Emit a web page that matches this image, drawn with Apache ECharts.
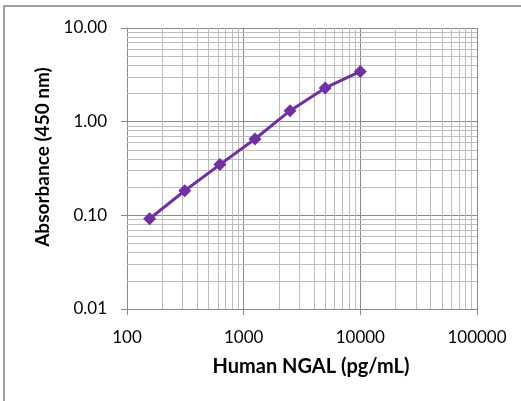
<!DOCTYPE html>
<html><head><meta charset="utf-8">
<script src="https://cdn.jsdelivr.net/npm/echarts@6/dist/echarts.min.js"></script>
<style>html,body{margin:0;padding:0;background:#fff}#c{width:521px;height:401px}</style>
</head><body><div id="c"></div>
<script>
const concentrations = [156.25, 312.5, 625, 1250, 2500, 5000, 10000];
const absorbance = [0.092, 0.183, 0.348, 0.653, 1.31, 2.29, 3.44];
const xTickLabels = ['100', '1000', '10000', '100000'];
const yTickLabels = ['0.01', '0.10', '1.00', '10.00'];
const xTitle = 'Human NGAL (pg/mL)';
const yTitle = 'Absorbance (450 nm)';

const xMinor = [], yMinor = [];
[100, 1000, 10000].forEach(d => { for (let k = 2; k <= 9; k++) xMinor.push(k * d); });
[0.01, 0.1, 1].forEach(d => { for (let k = 2; k <= 9; k++) yMinor.push(+(k * d).toFixed(3)); });

const font = 'Lato, "Open Sans", sans-serif';
const chart = echarts.init(document.getElementById('c'), null, {renderer: 'canvas'});
chart.setOption({
  animation: false,
  backgroundColor: '#fff',
  graphic: [{
    type: 'polyline', silent: true,
    shape: {points: [[4, 401], [4, 6], [521, 6]]},
    style: {stroke: '#a0a0a0', lineWidth: 2, fill: null}
  }, {
    type: 'text', silent: true, x: 311, y: 367,
    style: {text: xTitle, font: 'bold 20px ' + font, fill: '#000', align: 'center', verticalAlign: 'middle'}
  }, {
    type: 'text', silent: true, x: 43, y: 157, rotation: Math.PI / 2,
    style: {text: yTitle, font: 'bold 19px ' + font, fill: '#000', align: 'center', verticalAlign: 'middle'}
  }],
  grid: {left: 127, right: 44, top: 28, bottom: 92},
  xAxis: {
    type: 'log', logBase: 10, min: 100, max: 100000,
    axisLine: {lineStyle: {color: '#8a8a8a', width: 1}},
    axisTick: {show: true, length: 6, lineStyle: {color: '#8a8a8a'}},
    splitLine: {show: true, lineStyle: {color: '#8a8a8a', width: 1}},
    axisLabel: {fontFamily: font, fontSize: 17, color: '#000', margin: 20,
      formatter: v => { const i = Math.round(Math.log10(v)) - 2; return xTickLabels[i] || ''; }}
  },
  yAxis: {
    type: 'log', logBase: 10, min: 0.01, max: 10,
    axisLine: {show: true, lineStyle: {color: '#8a8a8a', width: 1}},
    axisTick: {show: true, length: 6, lineStyle: {color: '#8a8a8a'}},
    splitLine: {show: true, lineStyle: {color: '#8a8a8a', width: 1}},
    axisLabel: {fontFamily: font, fontSize: 17, color: '#000', margin: 20,
      formatter: v => { const i = Math.round(Math.log10(v)) + 2; return yTickLabels[i] || ''; }}
  },
  series: [
    {
      type: 'line', data: [], silent: true, z: 1,
      markLine: {
        silent: true, symbol: ['none', 'none'], label: {show: false},
        lineStyle: {color: '#bdbdbd', width: 1, type: 'solid'},
        data: xMinor.map(v => ({xAxis: v})).concat(yMinor.map(v => ({yAxis: v})))
      }
    },
    {
      type: 'line', z: 5,
      data: concentrations.map((c, i) => [c, absorbance[i]]),
      symbol: 'diamond', symbolSize: 13,
      lineStyle: {color: '#7030A0', width: 3},
      itemStyle: {color: '#7030A0'}
    }
  ]
});
</script></body></html>
